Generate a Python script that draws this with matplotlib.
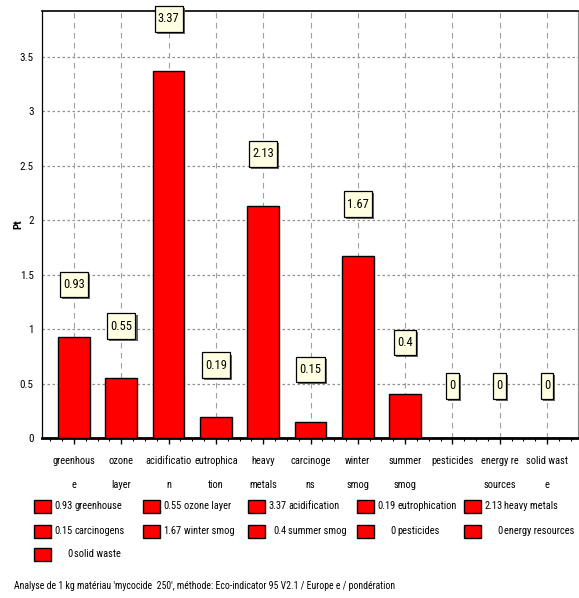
import matplotlib
matplotlib.use("Agg")
import matplotlib.pyplot as plt
from matplotlib import patheffects
from matplotlib.patches import Rectangle
from matplotlib.path import Path
from matplotlib.transforms import Affine2D
from matplotlib.ticker import MultipleLocator, FixedLocator

# impact categories (Eco-indicator 95)
categories = ["greenhouse", "ozone layer", "acidification", "eutrophication",
              "heavy metals", "carcinogens", "winter smog", "summer smog",
              "pesticides", "energy resources", "solid waste"]
tick_labels = ["greenhous\ne", "ozone\nlayer", "acidificatio\nn", "eutrophica\ntion",
               "heavy\nmetals", "carcinoge\nns", "winter\nsmog", "summer\nsmog",
               "pesticides", "energy re\nsources", "solid wast\ne"]
values = [0.93, 0.55, 3.37, 0.19, 2.13, 0.15, 1.67, 0.4, 0, 0, 0]
yticks = [0, 0.5, 1, 1.5, 2, 2.5, 3, 3.5]
caption = ("Analyse de 1 kg matériau 'mycocide  250', méthode: "
           "Eco-indicator 95 V2.1 / Europe e / pondération")

plt.rcParams["font.family"] = ["Roboto Condensed", "DejaVu Sans"]

W, H = 579, 598
fig = plt.figure(figsize=(W / 100, H / 100), dpi=100)
ax = fig.add_axes([42 / W, 1 - 438 / H, 536 / W, 427 / H])

x = list(range(len(categories)))
ax.bar(x, values, width=0.67, color="#ff0000", edgecolor="black", linewidth=1, zorder=3)

ax.set_xlim(-0.677, 10.655)
ax.set_ylim(0, 3.92)

# grid: dotted horizontals, dashed verticals at each category
for yv in yticks[1:]:
    ax.axhline(yv, color="#909090", linestyle=(0, (2, 2)), linewidth=0.9, zorder=1)
for xv in x:
    ax.axvline(xv, color="#a0a0a0", linestyle=(0, (5, 4)), linewidth=0.8, zorder=1)

ax.set_yticks(yticks)
ax.set_yticklabels([f"{t:g}" for t in yticks])
ax.tick_params(axis="y", length=0, pad=6, labelsize=8)
ax.xaxis.set_major_locator(FixedLocator(x))
ax.xaxis.set_minor_locator(MultipleLocator(0.25))
ax.set_xticklabels(tick_labels, linespacing=2.75)
ax.tick_params(axis="x", which="major", direction="out", length=4, width=1, pad=9, labelsize=7.5)
ax.tick_params(axis="x", which="minor", direction="out", length=2.5, width=0.8)

ax.spines["bottom"].set_linewidth(2)
ax.spines["top"].set_linewidth(1.2)
ax.spines["left"].set_linewidth(0.9)
ax.spines["right"].set_color("#909090")
ax.spines["right"].set_linewidth(0.8)

ax.set_ylabel("Pt", fontsize=8, fontweight="bold")
ax.yaxis.set_label_coords(-0.034, 0.5)


def tag_box(x0, y0, width, height, mutation_size):
    # taller than wide padding, like the value tags
    px = 0.25 * mutation_size
    py = 0.5 * mutation_size
    return Path.unit_rectangle().transformed(
        Affine2D().scale(width + 2 * px, height + 2 * py).translate(x0 - px, y0 - py))


for xi, v in zip(x, values):
    t = ax.annotate(f"{v:g}", xy=(xi, v), xytext=(0, 37.5), textcoords="offset points",
                    ha="center", va="center", fontsize=9, zorder=5, annotation_clip=False,
                    bbox=dict(boxstyle=tag_box, facecolor="#ffffe1", edgecolor="black", linewidth=0.9))
    t.get_bbox_patch().set_path_effects([
        patheffects.SimplePatchShadow(offset=(1.5, -1.5), shadow_rgbFace="#555555", alpha=0.9),
        patheffects.Normal()])

# legend: 5 columns, value right-aligned before the name
col_x = [34, 143, 248, 357, 464]
row_y = [506, 531, 554]
for i, (name, v) in enumerate(zip(categories, values)):
    cx = col_x[i % 5]
    cy = row_y[i // 5]
    fig.patches.append(Rectangle((cx / W, 1 - (cy + 6.5) / H), 17 / W, 13 / H,
                                 transform=fig.transFigure, facecolor="#ff0000",
                                 edgecolor="black", linewidth=1))
    fig.text((cx + 38.5) / W, 1 - cy / H, f"{v:g}", ha="right", va="center", fontsize=7.5)
    fig.text((cx + 40.5) / W, 1 - cy / H, name, ha="left", va="center", fontsize=7.5)

fig.text(14 / W, 1 - 586 / H, caption, ha="left", va="center", fontsize=7)

fig.savefig("out.png", dpi=100)
